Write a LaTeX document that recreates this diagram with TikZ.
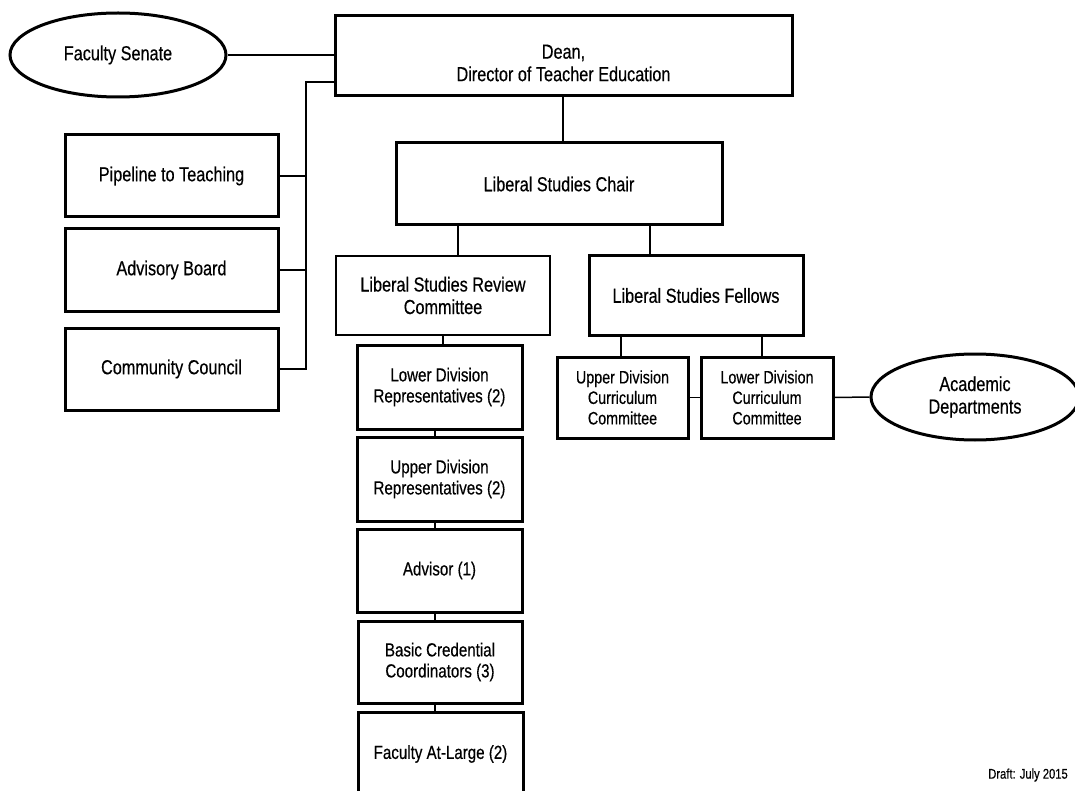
\documentclass[tikz,border=0pt]{standalone}
\usepackage{fontspec}
\setmainfont{Liberation Sans}[FakeStretch=0.8,FakeBold=0.4]
\usetikzlibrary{shapes.geometric}
\begin{document}
\begin{tikzpicture}[x=1pt,y=-1pt,
  box/.style={draw, rectangle, line width=3pt, inner sep=0pt, align=center,
    font=\fontsize{20.3}{22.5}\selectfont},
  sbox/.style={box, font=\fontsize{18.9}{21}\selectfont},
  cbox/.style={box, font=\fontsize{17.9}{20.5}\selectfont},
  oval/.style={draw, ellipse, line width=3pt, inner sep=0pt, align=center,
    font=\fontsize{20.3}{22.5}\selectfont},
  conn/.style={line width=1.5pt}]
\useasboundingbox (0,0) rectangle (1075,791);
\clip (0,0) rectangle (1075,791);

% top
\node[oval, minimum width=216pt, minimum height=84pt] (fs) at (118,55) {Faculty Senate};
\node[box, minimum width=457pt, minimum height=80pt] (dean) at (563.5,56) {\rule{0pt}{28pt}Dean,\\Director of Teacher Education};

% left column
\node[box, minimum width=213pt, minimum height=82pt] (pipe) at (171.5,176) {Pipeline to Teaching};
\node[box, minimum width=213pt, minimum height=82pt] (adv) at (171.5,270) {Advisory Board};
\node[box, minimum width=213pt, minimum height=82pt] (comm) at (171.5,369) {Community Council};

% chair level
\node[box, minimum width=326pt, minimum height=82pt] (chair) at (559,184) {Liberal Studies Chair};
\node[box, line width=2.5pt, minimum width=214pt, minimum height=79pt] (review) at (443,295.5) {Liberal Studies Review\\Committee};
\node[box, minimum width=214pt, minimum height=79pt] (fellows) at (696,295.5) {Liberal Studies Fellows};

% curriculum
\node[cbox, minimum width=131pt, minimum height=81pt] (udcc) at (622.5,397.5) {Upper Division\\Curriculum\\Committee};
\node[cbox, minimum width=132pt, minimum height=81pt] (ldcc) at (767,397.5) {Lower Division\\Curriculum\\Committee};
\node[oval, minimum width=208pt, minimum height=86pt] (acad) at (975,397) {Academic\\Departments};

% review column
\node[sbox, minimum width=165pt, minimum height=84pt] (ldr) at (439.5,387) {Lower Division\\Representatives (2)};
\node[sbox, minimum width=165pt, minimum height=84pt] (udr) at (439.5,479) {Upper Division\\Representatives (2)};
\node[sbox, minimum width=165pt, minimum height=83pt] (advisor) at (439.5,570.5) {Advisor (1)};
\node[sbox, minimum width=164pt, minimum height=82pt] (bcc) at (440,662) {Basic Credential\\Coordinators (3)};
\node[sbox, minimum width=165pt, minimum height=84pt] (fal) at (440.5,754) {Faculty At-Large (2)};

\node[font=\fontsize{14}{16}\selectfont] (draft) at (1028,775) {Draft: July 2015};

% connectors
\draw[conn] (fs.east) -- (fs.east -| dean.west);
\coordinate (bt) at (306,82);
\draw[conn] (dean.west |- bt) -- (bt) -- (bt |- comm.east) -- (comm.east);
\draw[conn] (pipe.east) -- (pipe.east -| bt);
\draw[conn] (adv.east) -- (adv.east -| bt);

\coordinate (xa) at (563,0);
\draw[conn] (dean.south -| xa) -- (chair.north -| xa);
\coordinate (xb) at (458,0);
\draw[conn] (chair.south -| xb) -- (review.north -| xb);
\coordinate (xc) at (650,0);
\draw[conn] (chair.south -| xc) -- (fellows.north -| xc);
\coordinate (xd) at (621,0);
\draw[conn] (fellows.south -| xd) -- (udcc.north -| xd);
\coordinate (xe) at (762,0);
\draw[conn] (fellows.south -| xe) -- (ldcc.north -| xe);
\draw[conn] (udcc.east) -- (ldcc.west);
\draw[conn] (ldcc.east) -- (acad.west);

\coordinate (xf) at (443,0);
\draw[conn] (review.south -| xf) -- (ldr.north -| xf);
\coordinate (xg) at (435,0);
\draw[conn] (ldr.south -| xg) -- (udr.north -| xg);
\draw[conn] (udr.south -| xg) -- (advisor.north -| xg);
\draw[conn] (advisor.south -| xg) -- (bcc.north -| xg);
\draw[conn] (bcc.south -| xg) -- (fal.north -| xg);
\end{tikzpicture}
\end{document}
